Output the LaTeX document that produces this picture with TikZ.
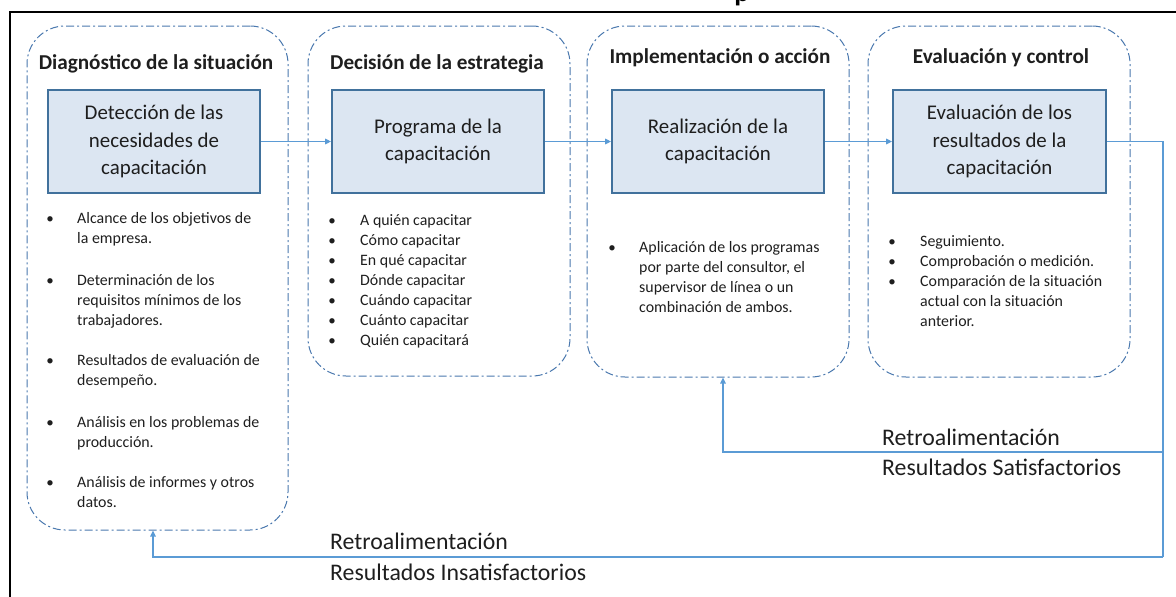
\documentclass[tikz,border=0pt]{standalone}
\usepackage{fontspec}
\setmainfont{Carlito}
\usetikzlibrary{arrows.meta}
\definecolor{boxfill}{HTML}{DCE6F2}
\definecolor{boxdraw}{HTML}{41719C}
\definecolor{contdraw}{HTML}{4A78AE}
\definecolor{arrcol}{HTML}{5B9BD5}
\definecolor{txtcol}{HTML}{1E1E1E}
\newcommand{\lnbx}[1]{\hbox{#1}}
\newcommand{\bitem}[5]{% name, bullet x, text x, baseline y, lines
  \node[bul] (#1b) at (#2,#4) {•};
  \node[btxt] (#1) at (#3,#4) {\vtop{#5}};}
\begin{document}
\begin{tikzpicture}[x=1pt,y=-1pt,
  cont/.style={draw=contdraw, line width=1pt, rounded corners=38pt,
    dash pattern=on 8pt off 3pt on 2pt off 3pt, inner sep=0pt},
  procbox/.style={draw=boxdraw, fill=boxfill, line width=1.8pt, inner sep=0pt,
    minimum width=212pt, minimum height=103pt, align=center, text=txtcol,
    font=\fontsize{20.9}{27.8}\selectfont},
  head/.style={anchor=base, inner sep=0pt, text=txtcol, font=\fontsize{21.2}{24}\selectfont\bfseries},
  bul/.style={anchor=base, inner sep=0pt, text=txtcol, font=\fontsize{15}{20.3}\selectfont},
  btxt/.style={anchor=base west, inner sep=0pt, text=txtcol, font=\fontsize{15.9}{20.3}\selectfont},
  fb/.style={anchor=base west, inner sep=0pt, text=txtcol, font=\fontsize{23.8}{28}\selectfont},
  conn/.style={draw=arrcol, line width=1.6pt, -{Triangle[length=6pt,width=5.5pt]}},
  line/.style={draw=arrcol, line width=1.6pt}
]
\useasboundingbox (0,0) rectangle (1176,597);
\clip (0,0) rectangle (1176,597);

% cut-off title fragment
\node[anchor=base, inner sep=0pt, font=\fontsize{28}{30}\selectfont\bfseries] (ttl) at (742,1.5) {p};

% outer frame
\draw[line width=2pt, black] (10,600) -- (10,12) -- (1180,12);

% containers
\node[cont, minimum width=261pt, minimum height=504pt] (c1) at (157.5,278) {};
\node[cont, minimum width=262pt, minimum height=350pt] (c2) at (439,201) {};
\node[cont, minimum width=262pt, minimum height=351pt] (c3) at (718,201.5) {};
\node[cont, minimum width=262pt, minimum height=351pt] (c4) at (999,201.5) {};

% headers
\node[head] (h1) at (156,69.5) {Diagnóstico de la situación};
\node[head] (h2) at (437,69.5) {Decisión de la estrategia};
\node[head] (h3) at (720,63.5) {Implementación o acción};
\node[head] (h4) at (1001,63.5) {Evaluación y control};

% process boxes
\node[procbox] (b1) at (154,141.5) {Detección de las\\necesidades de\\capacitación};
\node[procbox] (b2) at (438,141.5) {Programa de la\\capacitación};
\node[procbox] (b3) at (718,141.5) {Realización de la\\capacitación};
\node[procbox, minimum width=213pt] (b4) at (999.5,141.5) {Evaluación de los\\resultados de la\\capacitación};

% bullets column 1
\bitem{a1}{50}{77}{223}{\lnbx{Alcance de los objetivos de}\lnbx{la empresa.}}
\bitem{a2}{50}{77}{285}{\lnbx{Determinación de los}\lnbx{requisitos mínimos de los}\lnbx{trabajadores.}}
\bitem{a3}{50}{77}{365}{\lnbx{Resultados de evaluación de}\lnbx{desempeño.}}
\bitem{a4}{50}{77}{427}{\lnbx{Análisis en los problemas de}\lnbx{producción.}}
\bitem{a5}{50}{77}{487}{\lnbx{Análisis de informes y otros}\lnbx{datos.}}

% bullets column 2
\bitem{d1}{332}{360}{225}{\lnbx{A quién capacitar}}
\bitem{d2}{332}{360}{245}{\lnbx{Cómo capacitar}}
\bitem{d3}{332}{360}{265}{\lnbx{En qué capacitar}}
\bitem{d4}{332}{360}{285}{\lnbx{Dónde capacitar}}
\bitem{d5}{332}{360}{305}{\lnbx{Cuándo capacitar}}
\bitem{d6}{332}{360}{325}{\lnbx{Cuánto capacitar}}
\bitem{d7}{332}{360}{345}{\lnbx{Quién capacitará}}

% bullets column 3
\bitem{i1}{612}{639}{252}{\lnbx{Aplicación de los programas}\lnbx{por parte del consultor, el}\lnbx{supervisor de línea o un}\lnbx{combinación de ambos.}}

% bullets column 4
\bitem{e1}{892}{920}{246}{\lnbx{Seguimiento.}}
\bitem{e2}{892}{920}{266}{\lnbx{Comprobación o medición.}}
\bitem{e3}{892}{920}{286}{\lnbx{Comparación de la situación}\lnbx{actual con la situación}\lnbx{anterior.}}

% forward connectors
\draw[conn] (b1.east) -- (b2.west);
\draw[conn] (b2.east) -- (b3.west);
\draw[conn] (b3.east) -- (b4.west);

% feedback loops
\coordinate (rt) at (1163,141.5);
\coordinate (rm) at (1163,452);
\coordinate (rb) at (1163,557);
\coordinate (fb3) at (723,452);
\coordinate (fb1) at (153,557);
\draw[line] (b4.east) -- (rt) -- (rb);
\draw[conn] (rb) -- (fb1) -- (fb1 |- c1.south);
\draw[conn] (rm) -- (fb3) -- (fb3 |- c3.south);

% feedback labels
\node[fb] (l1) at (882,445) {Retroalimentación};
\node[fb] (l2) at (882,475) {Resultados Satisfactorios};
\node[fb] (l3) at (330,549) {Retroalimentación};
\node[fb] (l4) at (330,580) {Resultados Insatisfactorios};
\end{tikzpicture}
\end{document}
